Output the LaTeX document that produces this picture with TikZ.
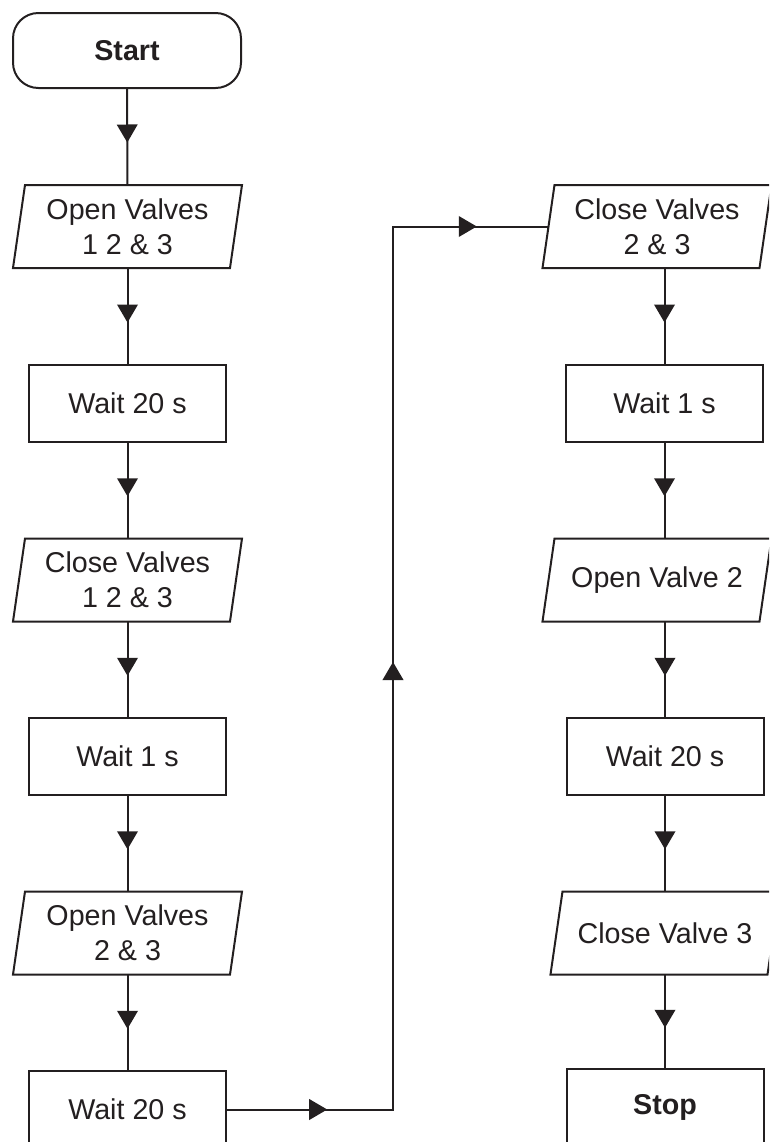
\documentclass[tikz,border=0pt]{standalone}
\usepackage{fontspec}
\setmainfont{Liberation Sans}
\usetikzlibrary{decorations.markings}
\definecolor{ink}{RGB}{35,31,32}
\tikzset{
  base/.style={font=\fontsize{21.5pt}{26.25pt}\selectfont, text=ink, inner sep=0pt, outer sep=0pt, align=center},
  term/.style={base, draw=ink, line width=1.5pt, rounded corners=19pt, minimum width=171pt, minimum height=56.25pt, font=\fontsize{21.5pt}{26.25pt}\selectfont\bfseries},
  proc/.style={base, draw=ink, line width=1.5pt, minimum width=147.75pt, minimum height=57.75pt},
  procbold/.style={proc, font=\fontsize{21.5pt}{26.25pt}\selectfont\bfseries},
  io/.style={base, minimum width=162.75pt, minimum height=62.25pt},
  ioframe/.style={draw=ink, line width=1.5pt, line join=miter},
  flow/.style={draw=ink, line width=1.5pt},
  midarrow/.style={postaction={decorate, decoration={markings, mark=at position #1 with {\fill[ink] (4.5pt,0pt) -- (-9pt,7.9pt) -- (-9pt,-7.9pt) -- cycle;}}}},
  midarrow/.default=0.5
}
\begin{document}
\begin{tikzpicture}[x=0.75pt, y=-0.75pt]
\useasboundingbox (0,0) rectangle (769,1142);
\clip (0,0) rectangle (769,1142);
% left column
\node[term] (start) at (127,50.5) {Start};
\node[io] (o1) at (127.5,226.5) {Open Valves\\1 2 \& 3};
\node[proc] (w1) at (127.5,403.5) {Wait 20 s};
\node[io] (c1) at (127.5,580) {Close Valves\\1 2 \& 3};
\node[proc] (w2) at (127.5,756.5) {Wait 1 s};
\node[io] (o2) at (127.5,933) {Open Valves\\2 \& 3};
\node[proc] (w3) at (127.5,1109.5) {Wait 20 s};
% right column
\node[io] (c2) at (657,226.5) {Close Valves\\2 \& 3};
\node[proc] (w4) at (664.5,403.5) {Wait 1 s};
\node[io] (o3) at (657,580) {Open Valve 2};
\node[proc] (w5) at (665,756.5) {Wait 20 s};
\node[io] (c3) at (665,933) {Close Valve 3};
\node[procbold] (stop) at (665,1107.5) {Stop};
% parallelogram frames
\foreach \n in {o1,c1,o2,c2,o3,c3}
  \draw[ioframe] ([xshift=4.5pt]\n.north west) -- ([xshift=4.5pt]\n.north east)
     -- ([xshift=-4.5pt]\n.south east) -- ([xshift=-4.5pt]\n.south west) -- cycle;
% left connectors
\draw[flow, midarrow] (start.south) -- (o1.north);
\draw[flow, midarrow] (o1.south) -- (w1.north);
\draw[flow, midarrow] (w1.south) -- (c1.north);
\draw[flow, midarrow] (c1.south) -- (w2.north);
\draw[flow, midarrow] (w2.south) -- (o2.north);
\draw[flow, midarrow] (o2.south) -- (w3.north);
% right connectors
\draw[flow, midarrow] (c2.south -| w4.north) -- (w4.north);
\draw[flow, midarrow] (w4.south) -- (w4.south |- o3.north);
\draw[flow, midarrow] (o3.south -| w5.north) -- (w5.north);
\draw[flow, midarrow] (w5.south) -- (w5.south |- c3.north);
\draw[flow, midarrow] (c3.south) -- (stop.north);
% loop connector
\coordinate (k) at (393,668);
\draw[flow, line join=miter] (w3.east) -- (w3.east -| k) -- (k |- c2.west) -- (c2.west);
\path[midarrow=0.57] (w3.east) -- (w3.east -| k);
\path[midarrow] (w3.east -| k) -- (k |- c2.west);
\path[midarrow] (k |- c2.west) -- (c2.west);
\end{tikzpicture}
\end{document}
